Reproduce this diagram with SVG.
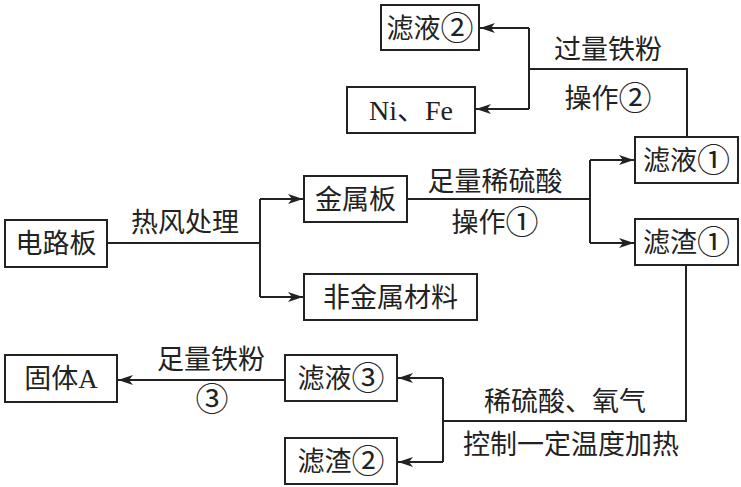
<svg xmlns="http://www.w3.org/2000/svg" width="741" height="487" viewBox="0 0 741 487">
<style>
.box{fill:#fff;stroke:#222;stroke-width:2}
.t{font-family:"Noto Sans CJK SC","Liberation Serif",sans-serif;font-size:27px;fill:#222;text-anchor:middle}
.l{font-family:"Liberation Serif","Noto Sans CJK SC",serif;font-size:28px;fill:#222;text-anchor:middle}
.c{fill:none;stroke:#222;stroke-width:2}
.d{font-size:33px}
</style>
<defs>
<marker id="ah" markerWidth="16" markerHeight="10" refX="15" refY="5" orient="auto" markerUnits="userSpaceOnUse">
<path d="M0,0 L15,5 L0,10 L4,5 Z" fill="#222"/>
</marker>
</defs>
<rect width="741" height="487" fill="#fff"/>
<g id="connectors">
<path class="c" d="M107,243 H260 M260,199 V297" />
<path class="c" d="M260,199 H303" marker-end="url(#ah)"/>
<path class="c" d="M260,297 H303" marker-end="url(#ah)"/>
<path class="c" d="M407,199 H590 M590,160 V243"/>
<path class="c" d="M590,160 H634" marker-end="url(#ah)"/>
<path class="c" d="M590,243 H634" marker-end="url(#ah)"/>
<path class="c" d="M687,137 V69 H529 M529,28 V109"/>
<path class="c" d="M529,28 H480" marker-end="url(#ah)"/>
<path class="c" d="M529,109 H476" marker-end="url(#ah)"/>
<path class="c" d="M686,265 V421 H443 M443,378 V462"/>
<path class="c" d="M443,378 H398" marker-end="url(#ah)"/>
<path class="c" d="M443,462 H398" marker-end="url(#ah)"/>
<path class="c" d="M285,380 H118" marker-end="url(#ah)"/>
</g>
<g id="labels">
<text class="t" x="185" y="232">热风处理</text>
<text class="t" x="495" y="191">足量稀硫酸</text>
<text class="t" x="495" y="232">操作<tspan class="d" dy="2">①</tspan></text>
<text class="t" x="608" y="59">过量铁粉</text>
<text class="t" x="608" y="108">操作<tspan class="d" dy="2">②</tspan></text>
<text class="t" x="211" y="369">足量铁粉</text>
<text class="t d" x="212" y="411">③</text>
<text class="t" x="565" y="411">稀硫酸、氧气</text>
<text class="t" x="571" y="454">控制一定温度加热</text>
</g>
<g id="n-dianluban"><rect class="box" x="5" y="220" width="102" height="47"/><text class="t" x="56" y="253">电路板</text></g>
<g id="n-jinshuban"><rect class="box" x="304" y="176" width="103" height="46"/><text class="t" x="355.5" y="209">金属板</text></g>
<g id="n-feijinshu"><rect class="box" x="304" y="274" width="173" height="46"/><text class="t" x="390.5" y="307">非金属材料</text></g>
<g id="n-lvye1"><rect class="box" x="635" y="137" width="103" height="46"/><text class="t" x="686.5" y="170">滤液<tspan class="d" dy="2">①</tspan></text></g>
<g id="n-lvzha1"><rect class="box" x="635" y="219" width="103" height="46"/><text class="t" x="686.5" y="252">滤渣<tspan class="d" dy="2">①</tspan></text></g>
<g id="n-lvye2"><rect class="box" x="381" y="5" width="98" height="45"/><text class="t" x="430" y="38">滤液<tspan class="d" dy="2">②</tspan></text></g>
<g id="n-nife"><rect class="box" x="347" y="87" width="128" height="46"/><text class="l" x="411" y="120">Ni、Fe</text></g>
<g id="n-lvye3"><rect class="box" x="285" y="355" width="112" height="46"/><text class="t" x="341" y="388">滤液<tspan class="d" dy="2">③</tspan></text></g>
<g id="n-lvzha2"><rect class="box" x="285" y="438" width="112" height="46"/><text class="t" x="341" y="471">滤渣<tspan class="d" dy="2">②</tspan></text></g>
<g id="n-gutiA"><rect class="box" x="5" y="355" width="112" height="47"/><text class="t" x="61" y="388">固体<tspan font-family="Liberation Serif">A</tspan></text></g>
</svg>
